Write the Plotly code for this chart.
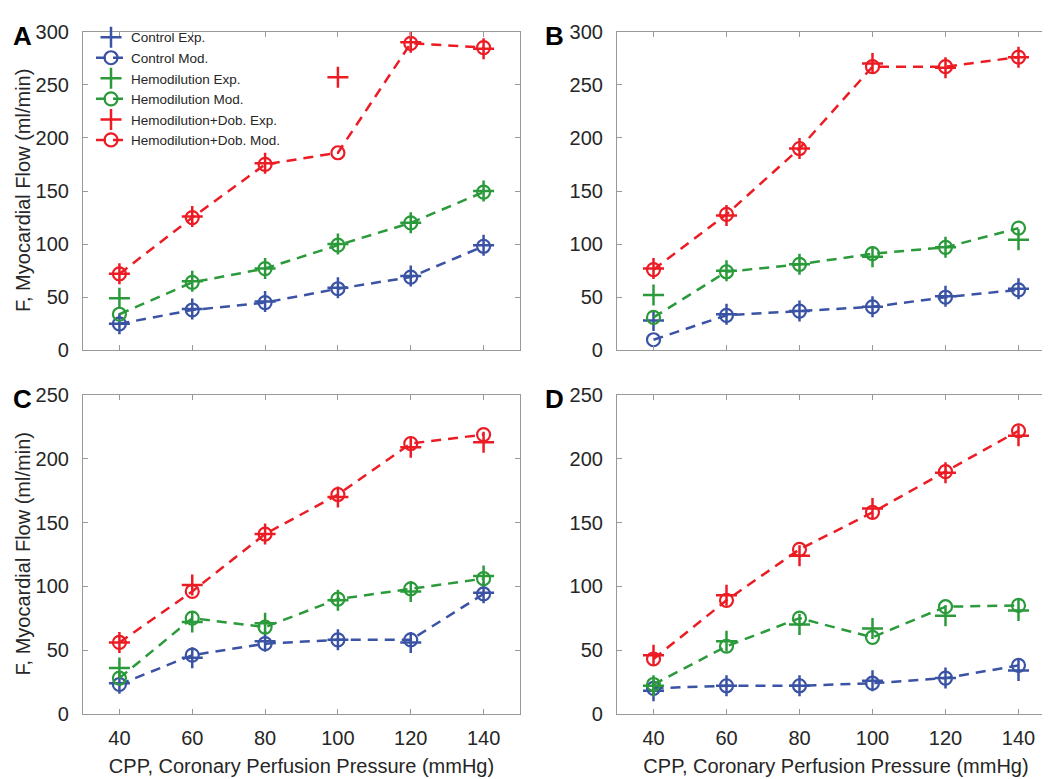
import plotly.graph_objects as go

# ---------------- data ----------------
cpp = [40, 60, 80, 100, 120, 140]

# Panel A
A_ctrl_exp = [25, 39, 46, 59, 70, 99]
A_ctrl_mod = [25, 38, 45, 58, 69, 98]
A_hemo_exp = [49, 65, 77, 100, 120, 150]
A_hemo_mod = [34, 64, 77, 99, 120, 149]
A_dob_exp = [72, 126, 176, 257, 290, 284]
A_dob_mod = [72, 125, 175, 186, 289, 285]

# Panel B
B_ctrl_exp = [28, 34, 37, 41, 51, 58]
B_ctrl_mod = [10, 33, 37, 41, 50, 57]
B_hemo_exp = [52, 75, 81, 88, 97, 104]
B_hemo_mod = [31, 74, 81, 91, 97, 115]
B_dob_exp = [77, 127, 190, 270, 266, 276]
B_dob_mod = [76, 128, 190, 267, 267, 276]

# Panel C
C_ctrl_exp = [24, 44, 57, 58, 56, 95]
C_ctrl_mod = [23, 46, 55, 58, 58, 94]
C_hemo_exp = [36, 72, 71, 89, 96, 108]
C_hemo_mod = [28, 75, 68, 90, 98, 106]
C_dob_exp = [56, 101, 141, 170, 209, 213]
C_dob_mod = [56, 96, 141, 172, 212, 219]

# Panel D
D_ctrl_exp = [18, 22, 22, 26, 28, 34]
D_ctrl_mod = [20, 22, 22, 24, 28, 38]
D_hemo_exp = [22, 57, 70, 67, 77, 81]
D_hemo_mod = [23, 53, 75, 60, 84, 85]
D_dob_exp = [46, 93, 124, 161, 189, 218]
D_dob_mod = [43, 89, 129, 158, 190, 222]

panels = {
    "A": [A_ctrl_exp, A_ctrl_mod, A_hemo_exp, A_hemo_mod, A_dob_exp, A_dob_mod],
    "B": [B_ctrl_exp, B_ctrl_mod, B_hemo_exp, B_hemo_mod, B_dob_exp, B_dob_mod],
    "C": [C_ctrl_exp, C_ctrl_mod, C_hemo_exp, C_hemo_mod, C_dob_exp, C_dob_mod],
    "D": [D_ctrl_exp, D_ctrl_mod, D_hemo_exp, D_hemo_mod, D_dob_exp, D_dob_mod],
}
series_names = ["Control Exp.", "Control Mod.", "Hemodilution Exp.", "Hemodilution Mod.",
                "Hemodilution+Dob. Exp.", "Hemodilution+Dob. Mod."]
colors = ["#3a53a4", "#3a53a4", "#2a9a3a", "#2a9a3a", "#ec1c24", "#ec1c24"]

y_ranges = {"A": [0, 300], "B": [0, 300], "C": [0, 250], "D": [0, 250]}
x_ticks = [40, 60, 80, 100, 120, 140]
x_title = "CPP, Coronary Perfusion Pressure (mmHg)"
y_title = "F, Myocardial Flow (ml/min)"

# ---------------- layout geometry ----------------
W, H = 1050, 779
def px_x(p): return p / W
def px_y(p): return 1 - p / H

dom_x = {"A": [px_x(75), px_x(512)], "B": [px_x(609), px_x(1047)],
         "C": [px_x(75), px_x(512)], "D": [px_x(609), px_x(1047)]}
dom_y = {"A": [px_y(341), px_y(13)], "B": [px_y(341), px_y(13)],
         "C": [px_y(715), px_y(387)], "D": [px_y(715), px_y(387)]}

FONT = "Liberation Sans, Arial, Helvetica, sans-serif"
fig = go.Figure()

for i, key in enumerate(["A", "B", "C", "D"]):
    ax = "" if i == 0 else str(i + 1)
    xref, yref = "x" + ax, "y" + ax
    for j, vals in enumerate(panels[key]):
        is_exp = (j % 2 == 0)
        if is_exp:
            tr = go.Scatter(x=cpp, y=vals, mode="markers", name=series_names[j],
                            marker=dict(symbol="cross-thin-open", size=15,
                                        line=dict(color=colors[j], width=2.5),
                                        color=colors[j]),
                            showlegend=(key == "A"), legendrank=j,
                            xaxis=xref, yaxis=yref)
        else:
            tr = go.Scatter(x=cpp, y=vals, mode="lines+markers", name=series_names[j],
                            line=dict(color=colors[j], width=2.5, dash="10px,7px"),
                            marker=dict(symbol="circle-open", size=13,
                                        line=dict(color=colors[j], width=2.2),
                                        color=colors[j]),
                            showlegend=(key == "A"), legendrank=j,
                            xaxis=xref, yaxis=yref)
        fig.add_trace(tr)

    bottom = key in ("C", "D")
    xa = dict(domain=dom_x[key], range=[30, 150], tickvals=x_ticks,
              showticklabels=bottom, ticks="inside", ticklen=5, tickcolor="#999999",
              showline=True, linecolor="#999999", linewidth=1.2, mirror="ticks",
              showgrid=False, zeroline=False, anchor=yref,
              tickfont=dict(family=FONT, size=20, color="#262626"),
              ticklabelstandoff=6)
    if bottom:
        xa["title"] = dict(text=x_title, font=dict(family=FONT, size=20, color="#262626"),
                           standoff=11)
    ya = dict(domain=dom_y[key], range=y_ranges[key], dtick=50,
              ticks="inside", ticklen=5, tickcolor="#999999",
              showline=True, linecolor="#999999", linewidth=1.2, mirror="ticks",
              showgrid=False, zeroline=False, anchor=xref,
              tickfont=dict(family=FONT, size=20, color="#262626"),
              ticklabelstandoff=9)
    fig.layout["xaxis" + ax] = xa
    fig.layout["yaxis" + ax] = ya

annotations = []
letter_pos = {"A": (14, 17), "B": (546, 17), "C": (14, 391), "D": (546, 391)}
for k, (lx, ly) in letter_pos.items():
    annotations.append(dict(text="<b>%s</b>" % k, x=px_x(lx), y=px_y(ly), xref="paper", yref="paper",
                            showarrow=False, xanchor="center", yanchor="middle",
                            font=dict(family=FONT, size=26, color="black")))
for yc in (177, 551):
    annotations.append(dict(text=y_title, x=px_x(15), y=px_y(yc), xref="paper", yref="paper",
                            showarrow=False, textangle=-90, xanchor="center", yanchor="middle",
                            font=dict(family=FONT, size=20, color="#262626")))

fig.update_layout(
    width=W, height=H, margin=dict(l=0, r=0, t=0, b=0),
    paper_bgcolor="white", plot_bgcolor="white",
    showlegend=True,
    legend=dict(x=px_x(83), y=px_y(3), xanchor="left", yanchor="top",
                bgcolor="rgba(0,0,0,0)", borderwidth=0,
                font=dict(family=FONT, size=13.5, color="#262626"),
                tracegroupgap=0),
    annotations=annotations,
)

fig.write_html("out.html")
